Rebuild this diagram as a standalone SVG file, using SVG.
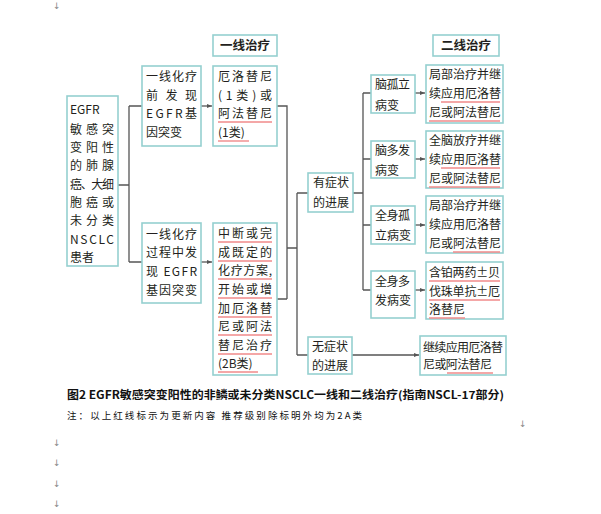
<svg xmlns="http://www.w3.org/2000/svg" width="601" height="514" viewBox="0 0 601 514">
<defs>
<style>
.box{fill:#fff;stroke:#95d0d0;stroke-width:1.6}
.t{font-family:"Noto Sans CJK SC","Liberation Sans",sans-serif;font-size:12px;fill:#231f20}
.h{font-family:"Noto Sans CJK SC","Liberation Sans",sans-serif;font-size:12.5px;fill:#231f20;font-weight:bold}
.ln{fill:none;stroke:#555;stroke-width:1.3}
.ul{stroke:#f08a8a;stroke-width:1.4}
.cap{font-family:"Noto Sans CJK SC","Liberation Sans",sans-serif;font-size:11px;fill:#111;font-weight:bold}
.note{font-family:"Noto Sans CJK SC","Liberation Sans",sans-serif;font-size:9.5px;fill:#111}
.pm{font-family:"DejaVu Sans",sans-serif;font-size:9px;fill:#888}
</style>
<marker id="ah" markerWidth="6" markerHeight="6" refX="5" refY="3" orient="auto" markerUnits="userSpaceOnUse">
<path d="M0,1 L5,3 L0,5 Z" fill="#555"/>
</marker>
</defs>
<rect width="601" height="514" fill="#fff"/>

<g id="connectors">
<path class="ln" d="M118,185 H129 M129,106 V262 M129,106 H142 M129,262 H142"/>
<path class="ln" d="M201,106 H212" marker-end="url(#ah)"/>
<path class="ln" d="M201,262 H212" marker-end="url(#ah)"/>
<path class="ln" d="M277,106 H287 V299 M277,299 H287 M287,248 H297 M297,193 V355 M297,193 H308 M297,355 H308"/>
<path class="ln" d="M353,193 H363 M363,93 V290 M363,93 H371 M363,159 H371 M363,225 H371 M363,290 H371"/>
<path class="ln" d="M415,93 H425" marker-end="url(#ah)"/>
<path class="ln" d="M415,159 H425" marker-end="url(#ah)"/>
<path class="ln" d="M415,225 H425" marker-end="url(#ah)"/>
<path class="ln" d="M415,290 H425" marker-end="url(#ah)"/>
<path class="ln" d="M352,355 H419" marker-end="url(#ah)"/>
</g>

<g id="header1">
<rect class="box" x="213" y="35" width="64" height="21"/>
<text class="h" x="245" y="50" text-anchor="middle">一线治疗</text>
</g>
<g id="header2">
<rect class="box" x="433" y="35" width="66" height="21"/>
<text class="h" x="466" y="50" text-anchor="middle">二线治疗</text>
</g>

<g id="patient">
<rect class="box" x="67" y="96" width="51" height="170"/>
<text class="t" x="70" y="114">EGFR</text>
<text class="t" x="70" y="134" textLength="44" lengthAdjust="spacing">敏感突</text>
<text class="t" x="70" y="152" textLength="44" lengthAdjust="spacing">变阳性</text>
<text class="t" x="70" y="170" textLength="44" lengthAdjust="spacing">的肺腺</text>
<text class="t" x="70" y="189" textLength="44" lengthAdjust="spacing">癌、大细</text>
<text class="t" x="70" y="207" textLength="44" lengthAdjust="spacing">胞癌或</text>
<text class="t" x="70" y="225" textLength="44" lengthAdjust="spacing">未分类</text>
<text class="t" x="70" y="244" textLength="44" lengthAdjust="spacing">NSCLC</text>
<text class="t" x="70" y="262">患者</text>
</g>

<g id="before">
<rect class="box" x="142" y="66" width="59" height="80"/>
<text class="t" x="146" y="81" textLength="51" lengthAdjust="spacing">一线化疗</text>
<text class="t" x="146" y="100" textLength="51" lengthAdjust="spacing">前发现</text>
<text class="t" x="146" y="118" textLength="51" lengthAdjust="spacing">EGFR基</text>
<text class="t" x="146" y="137">因突变</text>
</g>

<g id="during">
<rect class="box" x="142" y="223" width="59" height="80"/>
<text class="t" x="146" y="239" textLength="51" lengthAdjust="spacing">一线化疗</text>
<text class="t" x="146" y="257" textLength="51" lengthAdjust="spacing">过程中发</text>
<text class="t" x="146" y="276" textLength="51" lengthAdjust="spacing">现 EGFR</text>
<text class="t" x="146" y="295" textLength="51" lengthAdjust="spacing">基因突变</text>
</g>

<g id="erlotinib1">
<rect class="box" x="213" y="66" width="64" height="80"/>
<text class="t" x="218" y="81" textLength="54" lengthAdjust="spacing">厄洛替尼</text>
<text class="t" x="218" y="100" textLength="54" lengthAdjust="spacing">(1类)或</text>
<text class="t" x="218" y="118" textLength="54" lengthAdjust="spacing">阿法替尼</text>
<text class="t" x="218" y="137">(1类)</text>
<line class="ul" x1="218" y1="122" x2="272" y2="122"/>
<line class="ul" x1="218" y1="141" x2="249" y2="141"/>
</g>

<g id="interrupt">
<rect class="box" x="213" y="223" width="64" height="152"/>
<text class="t" x="218" y="238" textLength="54" lengthAdjust="spacing">中断或完</text>
<text class="t" x="218" y="257" textLength="54" lengthAdjust="spacing">成既定的</text>
<text class="t" x="218" y="275" textLength="54" lengthAdjust="spacing">化疗方案,</text>
<text class="t" x="218" y="294" textLength="54" lengthAdjust="spacing">开始或增</text>
<text class="t" x="218" y="313" textLength="54" lengthAdjust="spacing">加厄洛替</text>
<text class="t" x="218" y="331" textLength="54" lengthAdjust="spacing">尼或阿法</text>
<text class="t" x="218" y="350" textLength="54" lengthAdjust="spacing">替尼治疗</text>
<text class="t" x="218" y="368">(2B类)</text>
<line class="ul" x1="218" y1="242" x2="272" y2="242"/>
<line class="ul" x1="218" y1="261" x2="272" y2="261"/>
<line class="ul" x1="218" y1="279" x2="272" y2="279"/>
<line class="ul" x1="218" y1="298" x2="272" y2="298"/>
<line class="ul" x1="218" y1="317" x2="272" y2="317"/>
<line class="ul" x1="218" y1="335" x2="272" y2="335"/>
<line class="ul" x1="218" y1="354" x2="272" y2="354"/>
<line class="ul" x1="218" y1="372" x2="258" y2="372"/>
</g>

<g id="symptomatic">
<rect class="box" x="308" y="173" width="45" height="39"/>
<text class="t" x="313" y="187">有症状</text>
<text class="t" x="313" y="207">的进展</text>
</g>
<g id="asymptomatic">
<rect class="box" x="308" y="337" width="44" height="37"/>
<text class="t" x="312" y="351">无症状</text>
<text class="t" x="312" y="370">的进展</text>
</g>

<g id="brain-solo">
<rect class="box" x="371" y="75" width="44" height="38"/>
<text class="t" x="375" y="89" textLength="35" lengthAdjust="spacing">脑孤立</text>
<text class="t" x="375" y="110">病变</text>
</g>
<g id="brain-multi">
<rect class="box" x="371" y="141" width="44" height="37"/>
<text class="t" x="375" y="155" textLength="35" lengthAdjust="spacing">脑多发</text>
<text class="t" x="375" y="175">病变</text>
</g>
<g id="body-solo">
<rect class="box" x="371" y="206" width="44" height="38"/>
<text class="t" x="375" y="220" textLength="35" lengthAdjust="spacing">全身孤</text>
<text class="t" x="375" y="240">立病变</text>
</g>
<g id="body-multi">
<rect class="box" x="371" y="271" width="44" height="47"/>
<text class="t" x="375" y="286" textLength="35" lengthAdjust="spacing">全身多</text>
<text class="t" x="375" y="305">发病变</text>
</g>

<g id="tx-brain-solo">
<rect class="box" x="426" y="65" width="77" height="58"/>
<text class="t" x="429" y="79">局部治疗并继</text>
<text class="t" x="429" y="98">续应用厄洛替</text>
<text class="t" x="429" y="117">尼或阿法替尼</text>
<line class="ul" x1="441" y1="102" x2="500" y2="102"/>
<line class="ul" x1="429" y1="121" x2="500" y2="121"/>
</g>
<g id="tx-brain-multi">
<rect class="box" x="426" y="131" width="77" height="57"/>
<text class="t" x="429" y="145">全脑放疗并继</text>
<text class="t" x="429" y="164">续应用厄洛替</text>
<text class="t" x="429" y="183">尼或阿法替尼</text>
<line class="ul" x1="441" y1="168" x2="500" y2="168"/>
<line class="ul" x1="429" y1="187" x2="500" y2="187"/>
</g>
<g id="tx-body-solo">
<rect class="box" x="426" y="196" width="77" height="57"/>
<text class="t" x="429" y="210">局部治疗并继</text>
<text class="t" x="429" y="229">续应用厄洛替</text>
<text class="t" x="429" y="248">尼或阿法替尼</text>
<line class="ul" x1="453" y1="252" x2="500" y2="252"/>
</g>
<g id="tx-body-multi">
<rect class="box" x="426" y="262" width="77" height="57"/>
<text class="t" x="429" y="277" textLength="71" lengthAdjust="spacing">含铂两药±贝</text>
<text class="t" x="429" y="296" textLength="71" lengthAdjust="spacing">伐珠单抗±厄</text>
<text class="t" x="429" y="314">洛替尼</text>
<line class="ul" x1="429" y1="281" x2="500" y2="281"/>
<line class="ul" x1="429" y1="300" x2="500" y2="300"/>
<line class="ul" x1="429" y1="318" x2="465" y2="318"/>
</g>
<g id="tx-asym">
<rect class="box" x="420" y="336" width="86" height="39"/>
<text class="t" x="423" y="352" textLength="80" lengthAdjust="spacing">继续应用厄洛替</text>
<text class="t" x="423" y="369" textLength="69" lengthAdjust="spacing">尼或阿法替尼</text>
<line class="ul" x1="447" y1="373" x2="493" y2="373"/>
</g>

<text class="cap" x="67" y="399" textLength="437" lengthAdjust="spacingAndGlyphs">图2  EGFR敏感突变阳性的非鳞或未分类NSCLC一线和二线治疗(指南NSCL-17部分)</text>
<text class="note" x="67" y="419" textLength="295" lengthAdjust="spacing">注：以上红线标示为更新内容  推荐级别除标明外均为2A类</text>

<text class="pm" x="53" y="9">↓</text>
<text class="pm" x="519" y="427">↓</text>
<text class="pm" x="53" y="446">↓</text>
<text class="pm" x="53" y="466">↓</text>
<text class="pm" x="53" y="487">↓</text>
<text class="pm" x="53" y="507">↓</text>
</svg>
